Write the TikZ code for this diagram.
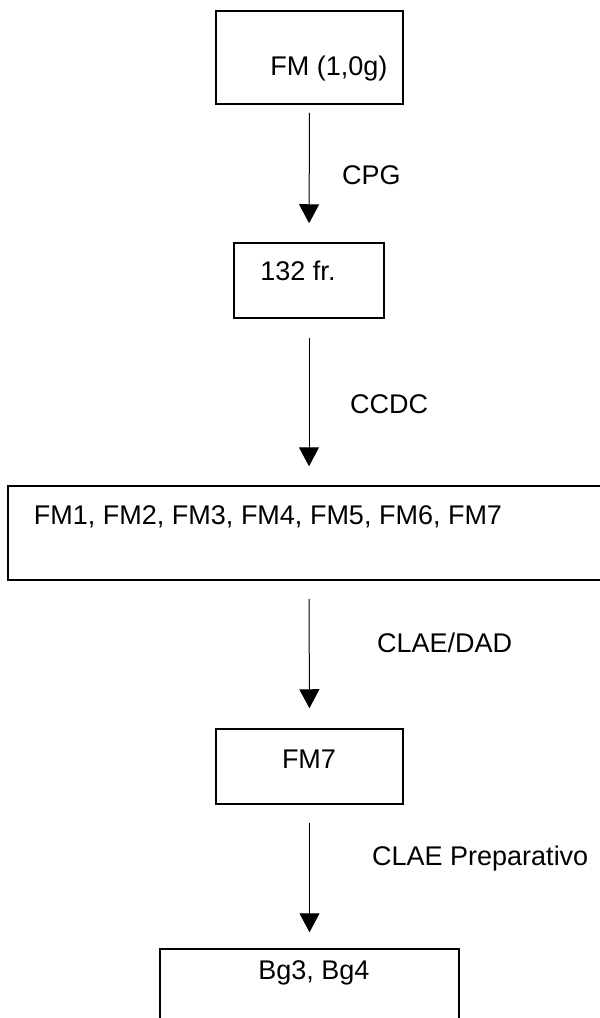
\documentclass[tikz,border=0pt]{standalone}
\usepackage{fontspec}
\setmainfont{Liberation Sans}
\usetikzlibrary{arrows.meta}
\tikzset{
  box/.style={draw, line width=1.5pt, inner sep=0pt},
  txt/.style={inner sep=0pt, font=\fontsize{27}{32}\selectfont},
  flow/.style={-{Triangle[width=20pt,length=19pt]}, line width=1pt}
}
\begin{document}
\begin{tikzpicture}[x=1pt,y=-1pt]
      \useasboundingbox (0,0) rectangle (600,1018);
      \draw
        (309.5,57.5) node[box, minimum width=187pt, minimum height=93pt] (fm){}
        (309,280.5) node[box, minimum width=150pt, minimum height=75pt] (fr){}
        (309,533) node[box, minimum width=602pt, minimum height=94pt] (fms){}
        (309.5,766.5) node[box, minimum width=187pt, minimum height=75pt] (fm7){}
        (309.5,990) node[box, minimum width=299pt, minimum height=82pt] (bg){};
      \draw
        (329,75) node[txt, anchor=base] (fmt){FM (1,0g)}
        (298,280) node[txt, anchor=base] (frt){132 fr.}
        (268,524) node[txt, anchor=base] (fmst){FM1, FM2, FM3, FM4, FM5, FM6, FM7}
        (309,768) node[txt, anchor=base] (fm7t){FM7}
        (314,979) node[txt, anchor=base] (bgt){Bg3, Bg4};
      \draw
        (342,184) node[txt, anchor=base west] (cpg){CPG}
        (350,413) node[txt, anchor=base west] (ccdc){CCDC}
        (377,652) node[txt, anchor=base west] (dad){CLAE/DAD}
        (372,865) node[txt, anchor=base west] (prep){CLAE Preparativo};
      \begin{scope}[flow]
        \draw[shorten <=8pt, shorten >=19pt] (fm.south) to (fr.north);
        \draw[shorten <=19pt, shorten >=19pt] (fr.south) to (fms.north);
        \draw[shorten <=18pt, shorten >=20pt] (fms.south) to (fm7.north);
        \draw[shorten <=18pt, shorten >=16pt] (fm7.south) to (bg.north);
      \end{scope}
    \end{tikzpicture}
\end{document}
